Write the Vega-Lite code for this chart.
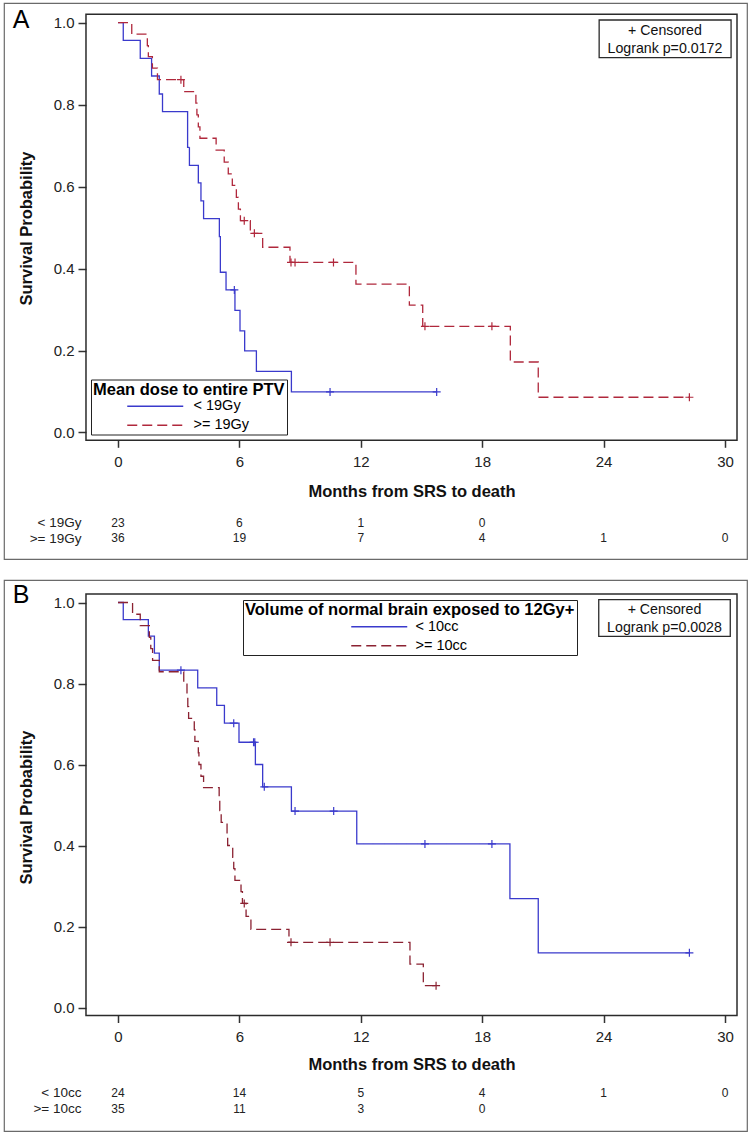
{
  "$schema": "https://vega.github.io/schema/vega-lite/v6.json",
  "padding": {"left": 3, "top": 2, "right": 0, "bottom": 0},
  "background": "white",
  "spacing": 19,
  "resolve": {"scale": {"color": "independent", "strokeDash": "independent", "stroke": "independent"}, "legend": {"color": "independent", "strokeDash": "independent", "stroke": "independent"}},
  "config": {
    "font": "Liberation Sans",
    "view": {"stroke": "#6a6a6a", "strokeWidth": 1.2, "fill": "white"},
    "axis": {"grid": false, "domain": false, "tickColor": "#333", "tickWidth": 1.5, "labelColor": "#222", "titleColor": "#111", "labelFontSize": 15, "titleFontSize": 16.5, "titleFontWeight": "bold"},
    "legend": {"strokeColor": "#222", "fillColor": "white", "padding": 2, "titleFontSize": 16.5, "titleFontWeight": "bold", "titleColor": "#000", "titleLimit": 600, "labelFontSize": 14.5, "labelColor": "#000", "titlePadding": 1, "rowPadding": 4}
  },
  "datasets": {
    "kmA": [
      {"group": "< 19Gy", "t": 0, "s": 1.0}, {"group": "< 19Gy", "t": 0.26, "s": 0.957}, {"group": "< 19Gy", "t": 1.1, "s": 0.913}, {"group": "< 19Gy", "t": 1.66, "s": 0.870}, {"group": "< 19Gy", "t": 2.04, "s": 0.826}, {"group": "< 19Gy", "t": 2.2, "s": 0.783}, {"group": "< 19Gy", "t": 3.44, "s": 0.696}, {"group": "< 19Gy", "t": 3.53, "s": 0.652}, {"group": "< 19Gy", "t": 3.97, "s": 0.609}, {"group": "< 19Gy", "t": 4.1, "s": 0.565}, {"group": "< 19Gy", "t": 4.23, "s": 0.522}, {"group": "< 19Gy", "t": 5.01, "s": 0.478}, {"group": "< 19Gy", "t": 5.06, "s": 0.391}, {"group": "< 19Gy", "t": 5.34, "s": 0.348}, {"group": "< 19Gy", "t": 5.78, "s": 0.298}, {"group": "< 19Gy", "t": 6.03, "s": 0.248}, {"group": "< 19Gy", "t": 6.26, "s": 0.199}, {"group": "< 19Gy", "t": 6.84, "s": 0.149}, {"group": "< 19Gy", "t": 8.57, "s": 0.099}, {"group": "< 19Gy", "t": 15.75, "s": 0.099},
      {"group": ">= 19Gy", "t": 0, "s": 1.0}, {"group": ">= 19Gy", "t": 0.68, "s": 0.972}, {"group": ">= 19Gy", "t": 1.45, "s": 0.944}, {"group": ">= 19Gy", "t": 1.5, "s": 0.917}, {"group": ">= 19Gy", "t": 1.7, "s": 0.889}, {"group": ">= 19Gy", "t": 1.95, "s": 0.861}, {"group": ">= 19Gy", "t": 3.25, "s": 0.832}, {"group": ">= 19Gy", "t": 3.85, "s": 0.804}, {"group": ">= 19Gy", "t": 3.9, "s": 0.775}, {"group": ">= 19Gy", "t": 3.97, "s": 0.746}, {"group": ">= 19Gy", "t": 4.05, "s": 0.718}, {"group": ">= 19Gy", "t": 4.85, "s": 0.689}, {"group": ">= 19Gy", "t": 5.25, "s": 0.660}, {"group": ">= 19Gy", "t": 5.45, "s": 0.631}, {"group": ">= 19Gy", "t": 5.65, "s": 0.603}, {"group": ">= 19Gy", "t": 5.85, "s": 0.574}, {"group": ">= 19Gy", "t": 5.95, "s": 0.545}, {"group": ">= 19Gy", "t": 6.05, "s": 0.517}, {"group": ">= 19Gy", "t": 6.54, "s": 0.486}, {"group": ">= 19Gy", "t": 7.15, "s": 0.452}, {"group": ">= 19Gy", "t": 8.5, "s": 0.415}, {"group": ">= 19Gy", "t": 11.76, "s": 0.362}, {"group": ">= 19Gy", "t": 14.4, "s": 0.311}, {"group": ">= 19Gy", "t": 15.06, "s": 0.259}, {"group": ">= 19Gy", "t": 19.39, "s": 0.172}, {"group": ">= 19Gy", "t": 20.77, "s": 0.086}, {"group": ">= 19Gy", "t": 28.24, "s": 0.086}
    ],
    "censA": [
      {"group": "< 19Gy", "t": 5.75, "s": 0.348}, {"group": "< 19Gy", "t": 10.48, "s": 0.099}, {"group": "< 19Gy", "t": 15.75, "s": 0.099},
      {"group": ">= 19Gy", "t": 3.11, "s": 0.861}, {"group": ">= 19Gy", "t": 6.24, "s": 0.517}, {"group": ">= 19Gy", "t": 6.74, "s": 0.486}, {"group": ">= 19Gy", "t": 8.55, "s": 0.415}, {"group": ">= 19Gy", "t": 8.75, "s": 0.415}, {"group": ">= 19Gy", "t": 10.65, "s": 0.415}, {"group": ">= 19Gy", "t": 15.17, "s": 0.259}, {"group": ">= 19Gy", "t": 18.48, "s": 0.259}, {"group": ">= 19Gy", "t": 28.24, "s": 0.086}
    ],
    "riskA": [
      {"group": "< 19Gy", "t": 0, "n": 23}, {"group": "< 19Gy", "t": 6, "n": 6}, {"group": "< 19Gy", "t": 12, "n": 1}, {"group": "< 19Gy", "t": 18, "n": 0},
      {"group": ">= 19Gy", "t": 0, "n": 36}, {"group": ">= 19Gy", "t": 6, "n": 19}, {"group": ">= 19Gy", "t": 12, "n": 7}, {"group": ">= 19Gy", "t": 18, "n": 4}, {"group": ">= 19Gy", "t": 24, "n": 1}, {"group": ">= 19Gy", "t": 30, "n": 0}
    ],
    "kmB": [
      {"group": "< 10cc", "t": 0, "s": 1.0}, {"group": "< 10cc", "t": 0.26, "s": 0.958}, {"group": "< 10cc", "t": 1.5, "s": 0.917}, {"group": "< 10cc", "t": 1.8, "s": 0.875}, {"group": "< 10cc", "t": 2.04, "s": 0.833}, {"group": "< 10cc", "t": 3.94, "s": 0.789}, {"group": "< 10cc", "t": 4.88, "s": 0.746}, {"group": "< 10cc", "t": 5.26, "s": 0.702}, {"group": "< 10cc", "t": 5.98, "s": 0.655}, {"group": "< 10cc", "t": 6.79, "s": 0.600}, {"group": "< 10cc", "t": 7.15, "s": 0.545}, {"group": "< 10cc", "t": 8.57, "s": 0.485}, {"group": "< 10cc", "t": 11.8, "s": 0.404}, {"group": "< 10cc", "t": 19.37, "s": 0.269}, {"group": "< 10cc", "t": 20.77, "s": 0.135}, {"group": "< 10cc", "t": 28.24, "s": 0.135},
      {"group": ">= 10cc", "t": 0, "s": 1.0}, {"group": ">= 10cc", "t": 0.72, "s": 0.971}, {"group": ">= 10cc", "t": 1.1, "s": 0.943}, {"group": ">= 10cc", "t": 1.55, "s": 0.914}, {"group": ">= 10cc", "t": 1.62, "s": 0.886}, {"group": ">= 10cc", "t": 1.71, "s": 0.857}, {"group": ">= 10cc", "t": 2.04, "s": 0.829}, {"group": ">= 10cc", "t": 3.25, "s": 0.800}, {"group": ">= 10cc", "t": 3.41, "s": 0.771}, {"group": ">= 10cc", "t": 3.45, "s": 0.743}, {"group": ">= 10cc", "t": 3.49, "s": 0.714}, {"group": ">= 10cc", "t": 3.77, "s": 0.686}, {"group": ">= 10cc", "t": 3.8, "s": 0.657}, {"group": ">= 10cc", "t": 3.97, "s": 0.629}, {"group": ">= 10cc", "t": 4.0, "s": 0.600}, {"group": ">= 10cc", "t": 4.1, "s": 0.571}, {"group": ">= 10cc", "t": 4.23, "s": 0.543}, {"group": ">= 10cc", "t": 5.0, "s": 0.514}, {"group": ">= 10cc", "t": 5.03, "s": 0.486}, {"group": ">= 10cc", "t": 5.1, "s": 0.457}, {"group": ">= 10cc", "t": 5.39, "s": 0.429}, {"group": ">= 10cc", "t": 5.42, "s": 0.400}, {"group": ">= 10cc", "t": 5.67, "s": 0.371}, {"group": ">= 10cc", "t": 5.72, "s": 0.343}, {"group": ">= 10cc", "t": 5.78, "s": 0.314}, {"group": ">= 10cc", "t": 6.08, "s": 0.286}, {"group": ">= 10cc", "t": 6.15, "s": 0.257}, {"group": ">= 10cc", "t": 6.33, "s": 0.225}, {"group": ">= 10cc", "t": 6.57, "s": 0.193}, {"group": ">= 10cc", "t": 8.45, "s": 0.161}, {"group": ">= 10cc", "t": 14.43, "s": 0.107}, {"group": ">= 10cc", "t": 15.09, "s": 0.054}, {"group": ">= 10cc", "t": 15.72, "s": 0.054}
    ],
    "censB": [
      {"group": "< 10cc", "t": 3.11, "s": 0.833}, {"group": "< 10cc", "t": 5.72, "s": 0.702}, {"group": "< 10cc", "t": 6.7, "s": 0.655}, {"group": "< 10cc", "t": 6.76, "s": 0.655}, {"group": "< 10cc", "t": 7.23, "s": 0.545}, {"group": "< 10cc", "t": 8.75, "s": 0.485}, {"group": "< 10cc", "t": 10.66, "s": 0.485}, {"group": "< 10cc", "t": 15.17, "s": 0.404}, {"group": "< 10cc", "t": 18.48, "s": 0.404}, {"group": "< 10cc", "t": 28.24, "s": 0.135},
      {"group": ">= 10cc", "t": 6.24, "s": 0.257}, {"group": ">= 10cc", "t": 8.55, "s": 0.161}, {"group": ">= 10cc", "t": 10.48, "s": 0.161}, {"group": ">= 10cc", "t": 15.72, "s": 0.054}
    ],
    "riskB": [
      {"group": "< 10cc", "t": 0, "n": 24}, {"group": "< 10cc", "t": 6, "n": 14}, {"group": "< 10cc", "t": 12, "n": 5}, {"group": "< 10cc", "t": 18, "n": 4}, {"group": "< 10cc", "t": 24, "n": 1}, {"group": "< 10cc", "t": 30, "n": 0},
      {"group": ">= 10cc", "t": 0, "n": 35}, {"group": ">= 10cc", "t": 6, "n": 11}, {"group": ">= 10cc", "t": 12, "n": 3}, {"group": ">= 10cc", "t": 18, "n": 0}
    ]
  },
  "vconcat": [
    {
      "width": 743, "height": 556,
      "resolve": {"scale": {"y": "independent"}},
      "layer": [
        {
          "data": {"name": "kmA"},
          "mark": {"type": "line", "interpolate": "step-after", "strokeWidth": 1.3},
          "encoding": {
            "x": {"field": "t", "type": "quantitative", "scale": {"domain": [-5.634, 31.087], "nice": false, "zero": false},
              "axis": {"orient": "bottom", "offset": -118.7, "values": [0, 6, 12, 18, 24, 30], "tickSize": 7, "labelPadding": 7, "title": "Months from SRS to death", "titleX": 407.5, "titleY": 55.7, "titleAlign": "center", "titleBaseline": "alphabetic"}},
            "y": {"field": "s", "type": "quantitative", "scale": {"domain": [-0.3087, 1.0481], "nice": false, "zero": false},
              "axis": {"orient": "left", "offset": -82, "values": [0, 0.2, 0.4, 0.6, 0.8, 1], "format": ".1f", "tickSize": 8, "labelPadding": 4, "title": "Survival Probability", "titleX": -60, "titleY": 225, "titleAngle": 270, "titleAlign": "center", "titleBaseline": "middle"}},
            "color": {"field": "group", "type": "nominal", "scale": {"domain": ["< 19Gy", ">= 19Gy"], "range": ["#3a3acc", "#b0283c"]},
              "legend": {"title": "Mean dose to entire PTV", "orient": "none", "legendX": 87, "legendY": 376.5, "symbolType": "M-5.6,0H5.6", "symbolSize": 100, "symbolStrokeWidth": 1.3, "symbolOffset": 55, "labelOffset": 31}},
            "strokeDash": {"field": "group", "type": "nominal", "scale": {"domain": ["< 19Gy", ">= 19Gy"], "range": [[1, 0], [10, 5]]},
              "legend": {"title": "Mean dose to entire PTV", "orient": "none", "legendX": 87, "legendY": 376.5, "symbolType": "M-5.6,0H5.6", "symbolSize": 100, "symbolStrokeWidth": 1.3, "symbolOffset": 55, "labelOffset": 31}}
          }
        },
        {
          "data": {"values": [{}]},
          "mark": {"type": "rect", "fillOpacity": 0, "stroke": "#2b2b2b", "strokeWidth": 1.5},
          "encoding": {
            "x": {"datum": -1.582, "type": "quantitative", "scale": {"domain": [-5.634, 31.087], "nice": false, "zero": false}},
            "x2": {"datum": 30.593},
            "y": {"datum": 1.0205, "type": "quantitative", "scale": {"domain": [-0.3087, 1.0481], "nice": false, "zero": false}, "axis": null},
            "y2": {"datum": -0.019}
          }
        },
        {
          "data": {"name": "censA"},
          "mark": {"type": "point", "shape": "M-1,0H1M0,-1V1", "filled": false, "size": 64, "strokeWidth": 1.2, "opacity": 1},
          "encoding": {
            "x": {"field": "t", "type": "quantitative", "scale": {"domain": [-5.634, 31.087], "nice": false, "zero": false}},
            "y": {"field": "s", "type": "quantitative", "scale": {"domain": [-0.3087, 1.0481], "nice": false, "zero": false}, "axis": null},
            "stroke": {"field": "group", "type": "nominal", "scale": {"domain": ["< 19Gy", ">= 19Gy"], "range": ["#3a3acc", "#b0283c"]}, "legend": null}
          }
        },
        {
          "data": {"values": [{}]},
          "mark": {"type": "rect", "fill": "white", "stroke": "#2b2b2b", "strokeWidth": 1.3},
          "encoding": {
            "x": {"datum": 23.78, "type": "quantitative", "scale": {"domain": [-5.634, 31.087], "nice": false, "zero": false}},
            "x2": {"datum": 30.30},
            "y": {"datum": 1.0066, "type": "quantitative", "scale": {"domain": [-0.3087, 1.0481], "nice": false, "zero": false}, "axis": null},
            "y2": {"datum": 0.9146}
          }
        },
        {
          "data": {"values": [{"label": "+ Censored"}]},
          "mark": {"type": "text", "fontSize": 14.2, "align": "center", "baseline": "middle", "color": "#111"},
          "encoding": {
            "x": {"datum": 27.03, "type": "quantitative", "scale": {"domain": [-5.634, 31.087], "nice": false, "zero": false}},
            "y": {"datum": 0.980, "type": "quantitative", "scale": {"domain": [-0.3087, 1.0481], "nice": false, "zero": false}, "axis": null},
            "text": {"field": "label"}
          }
        },
        {
          "data": {"values": [{"label": "Logrank p=0.0172"}]},
          "mark": {"type": "text", "fontSize": 14.2, "align": "center", "baseline": "middle", "color": "#111"},
          "encoding": {
            "x": {"datum": 27.03, "type": "quantitative", "scale": {"domain": [-5.634, 31.087], "nice": false, "zero": false}},
            "y": {"datum": 0.935, "type": "quantitative", "scale": {"domain": [-0.3087, 1.0481], "nice": false, "zero": false}, "axis": null},
            "text": {"field": "label"}
          }
        },
        {
          "data": {"values": [{"label": "A"}]},
          "mark": {"type": "text", "fontSize": 25, "align": "center", "baseline": "alphabetic", "color": "#000"},
          "encoding": {
            "x": {"datum": -4.79, "type": "quantitative", "scale": {"domain": [-5.634, 31.087], "nice": false, "zero": false}},
            "y": {"datum": 0.987, "type": "quantitative", "scale": {"domain": [-0.3087, 1.0481], "nice": false, "zero": false}, "axis": null},
            "text": {"field": "label"}
          }
        },
        {
          "data": {"name": "riskA"},
          "mark": {"type": "text", "fontSize": 12, "baseline": "middle", "align": "center", "color": "#222"},
          "encoding": {
            "x": {"field": "t", "type": "quantitative", "scale": {"domain": [-5.634, 31.087], "nice": false, "zero": false}},
            "y": {"field": "group", "type": "nominal", "scale": {"type": "point", "domain": ["< 19Gy", ">= 19Gy"], "range": [519.5, 535], "padding": 0},
              "axis": {"orient": "left", "offset": -77, "ticks": false, "tickSize": 0, "labelPadding": 0, "labelFontSize": 13.5, "title": null}},
            "text": {"field": "n", "type": "nominal"}
          }
        }
      ]
    },
    {
      "width": 743, "height": 551,
      "resolve": {"scale": {"y": "independent"}},
      "layer": [
        {
          "data": {"name": "kmB"},
          "mark": {"type": "line", "interpolate": "step-after", "strokeWidth": 1.3},
          "encoding": {
            "x": {"field": "t", "type": "quantitative", "scale": {"domain": [-5.634, 31.087], "nice": false, "zero": false},
              "axis": {"orient": "bottom", "offset": -115.5, "values": [0, 6, 12, 18, 24, 30], "tickSize": 7, "labelPadding": 7, "title": "Months from SRS to death", "titleX": 407.5, "titleY": 54, "titleAlign": "center", "titleBaseline": "alphabetic"}},
            "y": {"field": "s", "type": "quantitative", "scale": {"domain": [-0.3049, 1.0556], "nice": false, "zero": false},
              "axis": {"orient": "left", "offset": -82, "values": [0, 0.2, 0.4, 0.6, 0.8, 1], "format": ".1f", "tickSize": 8, "labelPadding": 4, "title": "Survival Probability", "titleX": -60, "titleY": 227, "titleAngle": 270, "titleAlign": "center", "titleBaseline": "middle"}},
            "color": {"field": "group", "type": "nominal", "scale": {"domain": ["< 10cc", ">= 10cc"], "range": ["#3a3acc", "#8b2232"]},
              "legend": {"title": "Volume of normal brain exposed to 12Gy+", "orient": "none", "legendX": 239, "legendY": 20, "symbolType": "M-5.6,0H5.6", "symbolSize": 100, "symbolStrokeWidth": 1.3, "symbolOffset": 127, "labelOffset": 29}},
            "strokeDash": {"field": "group", "type": "nominal", "scale": {"domain": ["< 10cc", ">= 10cc"], "range": [[1, 0], [10, 5]]},
              "legend": {"title": "Volume of normal brain exposed to 12Gy+", "orient": "none", "legendX": 239, "legendY": 20, "symbolType": "M-5.6,0H5.6", "symbolSize": 100, "symbolStrokeWidth": 1.3, "symbolOffset": 127, "labelOffset": 29}}
          }
        },
        {
          "data": {"values": [{}]},
          "mark": {"type": "rect", "fillOpacity": 0, "stroke": "#2b2b2b", "strokeWidth": 1.5},
          "encoding": {
            "x": {"datum": -1.582, "type": "quantitative", "scale": {"domain": [-5.634, 31.087], "nice": false, "zero": false}},
            "x2": {"datum": 30.593},
            "y": {"datum": 1.021, "type": "quantitative", "scale": {"domain": [-0.3049, 1.0556], "nice": false, "zero": false}, "axis": null},
            "y2": {"datum": -0.0198}
          }
        },
        {
          "data": {"name": "censB"},
          "mark": {"type": "point", "shape": "M-1,0H1M0,-1V1", "filled": false, "size": 64, "strokeWidth": 1.2, "opacity": 1},
          "encoding": {
            "x": {"field": "t", "type": "quantitative", "scale": {"domain": [-5.634, 31.087], "nice": false, "zero": false}},
            "y": {"field": "s", "type": "quantitative", "scale": {"domain": [-0.3049, 1.0556], "nice": false, "zero": false}, "axis": null},
            "stroke": {"field": "group", "type": "nominal", "scale": {"domain": ["< 10cc", ">= 10cc"], "range": ["#3a3acc", "#8b2232"]}, "legend": null}
          }
        },
        {
          "data": {"values": [{}]},
          "mark": {"type": "rect", "fill": "white", "stroke": "#2b2b2b", "strokeWidth": 1.3},
          "encoding": {
            "x": {"datum": 23.76, "type": "quantitative", "scale": {"domain": [-5.634, 31.087], "nice": false, "zero": false}},
            "x2": {"datum": 30.26},
            "y": {"datum": 1.0069, "type": "quantitative", "scale": {"domain": [-0.3049, 1.0556], "nice": false, "zero": false}, "axis": null},
            "y2": {"datum": 0.9165}
          }
        },
        {
          "data": {"values": [{"label": "+ Censored"}]},
          "mark": {"type": "text", "fontSize": 14.2, "align": "center", "baseline": "middle", "color": "#111"},
          "encoding": {
            "x": {"datum": 27.01, "type": "quantitative", "scale": {"domain": [-5.634, 31.087], "nice": false, "zero": false}},
            "y": {"datum": 0.982, "type": "quantitative", "scale": {"domain": [-0.3049, 1.0556], "nice": false, "zero": false}, "axis": null},
            "text": {"field": "label"}
          }
        },
        {
          "data": {"values": [{"label": "Logrank p=0.0028"}]},
          "mark": {"type": "text", "fontSize": 14.2, "align": "center", "baseline": "middle", "color": "#111"},
          "encoding": {
            "x": {"datum": 27.01, "type": "quantitative", "scale": {"domain": [-5.634, 31.087], "nice": false, "zero": false}},
            "y": {"datum": 0.937, "type": "quantitative", "scale": {"domain": [-0.3049, 1.0556], "nice": false, "zero": false}, "axis": null},
            "text": {"field": "label"}
          }
        },
        {
          "data": {"values": [{"label": "B"}]},
          "mark": {"type": "text", "fontSize": 25, "align": "center", "baseline": "alphabetic", "color": "#000"},
          "encoding": {
            "x": {"datum": -4.79, "type": "quantitative", "scale": {"domain": [-5.634, 31.087], "nice": false, "zero": false}},
            "y": {"datum": 0.999, "type": "quantitative", "scale": {"domain": [-0.3049, 1.0556], "nice": false, "zero": false}, "axis": null},
            "text": {"field": "label"}
          }
        },
        {
          "data": {"name": "riskB"},
          "mark": {"type": "text", "fontSize": 12, "baseline": "middle", "align": "center", "color": "#222"},
          "encoding": {
            "x": {"field": "t", "type": "quantitative", "scale": {"domain": [-5.634, 31.087], "nice": false, "zero": false}},
            "y": {"field": "group", "type": "nominal", "scale": {"type": "point", "domain": ["< 10cc", ">= 10cc"], "range": [512.5, 528.5], "padding": 0},
              "axis": {"orient": "left", "offset": -77, "ticks": false, "tickSize": 0, "labelPadding": 0, "labelFontSize": 13.5, "title": null}},
            "text": {"field": "n", "type": "nominal"}
          }
        }
      ]
    }
  ]
}
